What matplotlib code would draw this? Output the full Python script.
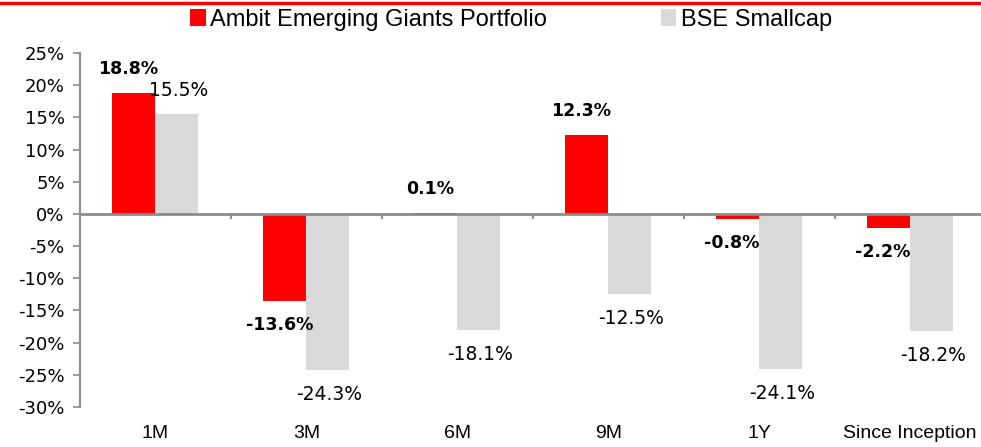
import matplotlib
matplotlib.use("Agg")
import matplotlib.pyplot as plt
from matplotlib.patches import Patch
from matplotlib.lines import Line2D
import numpy as np

categories = ["1M", "3M", "6M", "9M", "1Y", "Since Inception"]
ambit = [18.8, -13.6, 0.1, 12.3, -0.8, -2.2]
bse = [15.5, -24.3, -18.1, -12.5, -24.1, -18.2]
yticks = [25, 20, 15, 10, 5, 0, -5, -10, -15, -20, -25, -30]
series_names = ["Ambit Emerging Giants Portfolio", "BSE Smallcap"]

RED = "#FF0000"
GRAY = "#D9D9D9"
AXC = "#8C8C8C"
NARROW = ["Liberation Sans", "DejaVu Sans"]

W, H = 981, 447
fig = plt.figure(figsize=(W / 100, H / 100), dpi=100)
ax = fig.add_axes([80 / W, 1 - 407 / H, 905.5 / W, (407 - 53) / H])

x = np.arange(len(categories))
bw = 0.285
ax.bar(x - bw / 2, ambit, width=bw, color=RED, zorder=2)
ax.bar(x + bw / 2, bse, width=bw, color=GRAY, zorder=2)

ax.set_xlim(-0.5, len(categories) - 0.5)
ax.set_ylim(-30, 25)
ax.set_yticks(yticks)
ax.set_yticklabels([f"{v}%" for v in yticks], fontsize=13, family="DejaVu Sans")
ax.tick_params(axis="y", direction="out", length=5, width=1.2, color=AXC, pad=6)

ax.set_xticks(x)
ax.set_xticklabels(categories, fontsize=14, family=NARROW)
ax.tick_params(axis="x", length=0, pad=13)

for s in ["top", "right", "bottom"]:
    ax.spines[s].set_visible(False)
ax.spines["left"].set_color(AXC)
ax.spines["left"].set_linewidth(1.5)

ax.axhline(0, color=AXC, lw=2, zorder=3)
bounds = x[:-1] + 0.5
ax.vlines(bounds, -0.8, 0, color=AXC, lw=1.5, zorder=3)

def label(xp, v, bold, dx):
    off = 24 if v >= 0 else -24
    ax.annotate(f"{v:.1f}%", (xp, v), xytext=(dx, off * 0.72), textcoords="offset points",
                ha="center", va="center", fontsize=12.5 if bold else 13.5,
                fontweight="bold" if bold else "normal", family="DejaVu Sans", color="black",
                zorder=4)

for i in range(len(categories)):
    label(x[i] - bw / 2, ambit[i], True, -4)
    label(x[i] + bw / 2, bse[i], False, 1)

handles = [Patch(facecolor=RED, edgecolor="none"), Patch(facecolor=GRAY, edgecolor="none")]
leg = fig.legend(handles, series_names, loc="center", bbox_to_anchor=(511 / W, 1 - 20 / H),
                 ncol=2, frameon=False, handlelength=0.65, handleheight=0.7, handletextpad=0.2,
                 columnspacing=4.8, prop={"family": NARROW, "size": 17})

fig.add_artist(Line2D([0, 1], [1 - 3 / H, 1 - 3 / H], transform=fig.transFigure, color=RED, lw=2.5))

fig.savefig("out.png", dpi=100)
